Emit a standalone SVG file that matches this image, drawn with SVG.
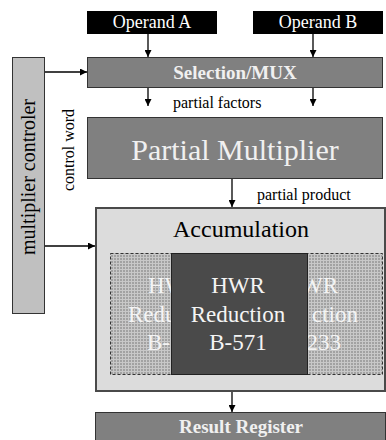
<svg xmlns="http://www.w3.org/2000/svg" width="386" height="440" viewBox="0 0 386 440">
<style>
text{font-family:"Liberation Serif",Tinos,"Times New Roman","Noto Serif","DejaVu Serif",serif}
.lbl{font-size:16px;fill:#000}
.op{fill:#000}
.opt{font-size:18px;fill:#fff;text-anchor:middle}
.mid{fill:#808080;stroke:#333;stroke-width:1}
.bt{font-weight:bold;fill:#f0f0f0;text-anchor:middle}
.wire{stroke:#000;stroke-width:1.3;fill:none}
.ghost{font-size:23px;fill:#f4f4f4;text-anchor:middle}
.gl{font-size:23px;fill:#f4f4f4;text-anchor:start}
.gr{font-size:23px;fill:#f4f4f4;text-anchor:end}
</style>
<defs>
<marker id="ah" viewBox="0 0 10 10" refX="10" refY="5" markerWidth="7" markerHeight="7" markerUnits="userSpaceOnUse" orient="auto">
<path d="M0,0 L10,5 L0,10 z" fill="#000"/>
</marker>
<pattern id="hatch" width="3" height="3" patternUnits="userSpaceOnUse">
<rect width="3" height="3" fill="#c8c8c8"/>
<rect width="2" height="2" fill="#a2a2a2"/>
</pattern>
<clipPath id="clipL"><rect x="110" y="253" width="61" height="122"/></clipPath>
<clipPath id="clipR"><rect x="307" y="253" width="76" height="122"/></clipPath>
</defs>
<rect width="386" height="440" fill="#fff"/>

<g id="operandA">
<rect class="op" x="87" y="11" width="130" height="23"/>
<text class="opt" x="152" y="28">Operand A</text>
</g>
<g id="operandB">
<rect class="op" x="253" y="11" width="130" height="23"/>
<text class="opt" x="318" y="28">Operand B</text>
</g>
<g id="selection">
<rect class="mid" x="87.5" y="57.5" width="295" height="30"/>
<text class="bt" x="235" y="79" font-size="19">Selection/MUX</text>
</g>
<g id="controller">
<rect x="12.5" y="57.5" width="32" height="256" fill="#c0c0c0" stroke="#333" stroke-width="1"/>
<text transform="translate(35,177) rotate(-90)" font-size="20" text-anchor="middle">multiplier controler</text>
</g>
<g id="partialMultiplier">
<rect class="mid" x="87.5" y="117.5" width="295" height="61" fill="#7a7a7a"/>
<text x="235" y="160" font-size="30" fill="#f0f0f0" text-anchor="middle">Partial Multiplier</text>
</g>
<g id="accumulation">
<rect x="96" y="208" width="289" height="183" fill="#dcdcdc" stroke="#4a4a4a" stroke-width="2"/>
<text x="241" y="237" font-size="24" text-anchor="middle">Accumulation</text>
<rect x="110.5" y="253.5" width="272" height="121" fill="url(#hatch)" stroke="#333" stroke-width="1" stroke-dasharray="3,2"/>
<g clip-path="url(#clipL)">
<text class="gl" x="148" y="293">HW</text>
<text class="gl" x="128" y="322">Redu</text>
<text class="gl" x="147" y="350">B-</text>
</g>
<g clip-path="url(#clipR)">
<text class="gr" x="338" y="293">WR</text>
<text class="gr" x="358" y="322">ction</text>
<text class="gr" x="341" y="350">233</text>
</g>
</g>
<g id="hwr571">
<rect x="171.5" y="253.5" width="136" height="121" fill="#4a4a4a" stroke="#222" stroke-width="1"/>
<text class="ghost" x="238" y="293">HWR</text>
<text class="ghost" x="238" y="322">Reduction</text>
<text class="ghost" x="238" y="350">B-571</text>
</g>
<g id="resultRegister">
<rect class="mid" x="95.5" y="412.5" width="290" height="35" fill="#777"/>
<text class="bt" x="241" y="433" font-size="19">Result Register</text>
</g>

<g id="connectors">
<line class="wire" x1="148" y1="34" x2="148" y2="57" marker-end="url(#ah)"/>
<line class="wire" x1="313" y1="34" x2="313" y2="57" marker-end="url(#ah)"/>
<line class="wire" x1="45" y1="72" x2="87" y2="72" marker-end="url(#ah)"/>
<line class="wire" x1="148" y1="88" x2="148" y2="106" marker-end="url(#ah)"/>
<line class="wire" x1="313" y1="88" x2="313" y2="106" marker-end="url(#ah)"/>
<line class="wire" x1="232" y1="179" x2="232" y2="207" marker-end="url(#ah)"/>
<line class="wire" x1="45" y1="246" x2="95" y2="246" marker-end="url(#ah)"/>
<line class="wire" x1="232" y1="392" x2="232" y2="412" marker-end="url(#ah)"/>
<text class="lbl" x="173" y="108">partial factors</text>
<text class="lbl" x="257" y="200">partial product</text>
<text class="lbl" transform="translate(74,150) rotate(-90)" text-anchor="middle">control word</text>
</g>
</svg>
